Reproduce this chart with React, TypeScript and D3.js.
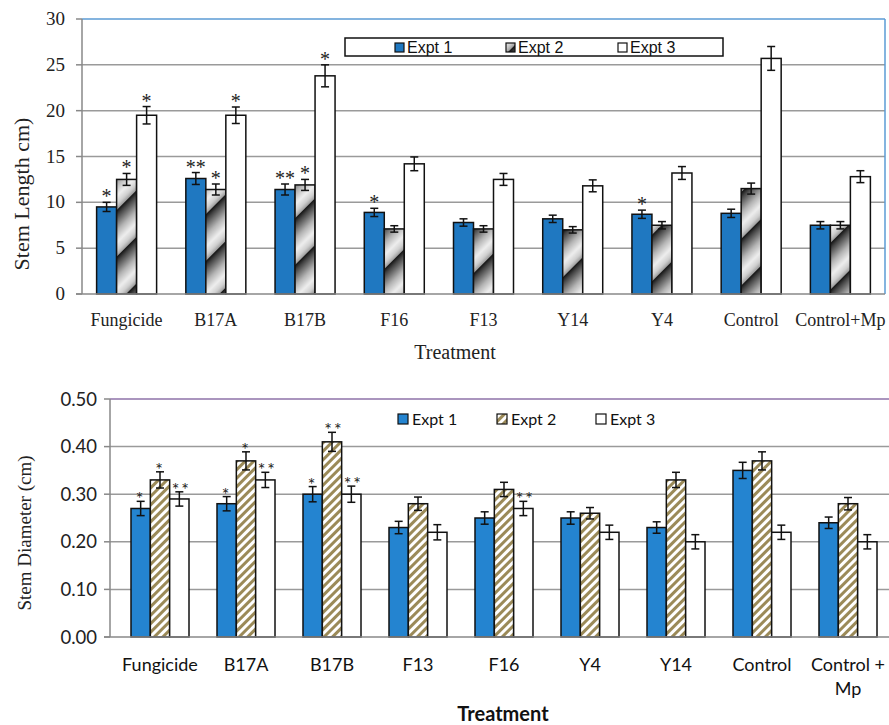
import React from "react";
import * as d3 from "d3";

// ---------- Top chart data (Stem Length) ----------
const lenCategories = ["Fungicide", "B17A", "B17B", "F16", "F13", "Y14", "Y4", "Control", "Control+Mp"];
const lenE1 = [9.5, 12.6, 11.4, 8.9, 7.8, 8.2, 8.7, 8.8, 7.5];
const lenE2 = [12.5, 11.4, 11.9, 7.1, 7.1, 7.0, 7.5, 11.5, 7.5];
const lenE3 = [19.5, 19.5, 23.8, 14.2, 12.5, 11.8, 13.2, 25.7, 12.8];
const lenE1Err = [0.5, 0.65, 0.6, 0.45, 0.4, 0.4, 0.45, 0.45, 0.4];
const lenE2Err = [0.65, 0.6, 0.6, 0.35, 0.35, 0.35, 0.4, 0.6, 0.4];
const lenE3Err = [0.95, 0.9, 1.2, 0.75, 0.65, 0.65, 0.7, 1.3, 0.65];
const lenE1Sig = ["*", "**", "**", "*", "", "", "*", "", ""];
const lenE2Sig = ["*", "*", "*", "", "", "", "", "", ""];
const lenE3Sig = ["*", "*", "*", "", "", "", "", "", ""];
const lenTicks = [0, 5, 10, 15, 20, 25, 30];

// ---------- Bottom chart data (Stem Diameter) ----------
const diaCategories = ["Fungicide", "B17A", "B17B", "F13", "F16", "Y4", "Y14", "Control", "Control +|Mp"];
const diaE1 = [0.27, 0.28, 0.30, 0.23, 0.25, 0.25, 0.23, 0.35, 0.24];
const diaE2 = [0.33, 0.37, 0.41, 0.28, 0.31, 0.26, 0.33, 0.37, 0.28];
const diaE3 = [0.29, 0.33, 0.30, 0.22, 0.27, 0.22, 0.20, 0.22, 0.20];
const diaE1Err = [0.015, 0.015, 0.016, 0.013, 0.013, 0.013, 0.012, 0.017, 0.012];
const diaE2Err = [0.017, 0.019, 0.02, 0.014, 0.015, 0.012, 0.016, 0.019, 0.013];
const diaE3Err = [0.015, 0.016, 0.017, 0.016, 0.015, 0.015, 0.015, 0.015, 0.015];
const diaE1Sig = ["*", "*", "*", "", "", "", "", "", ""];
const diaE2Sig = ["*", "*", "**", "", "", "", "", "", ""];
const diaE3Sig = ["**", "**", "**", "", "**", "", "", "", ""];
const diaTicks = [0, 0.1, 0.2, 0.3, 0.4, 0.5];

const seriesNames = ["Expt 1", "Expt 2", "Expt 3"];

const SERIF = "Liberation Serif, Times New Roman, Times, serif";
const SANS = "Liberation Sans, Arial, sans-serif";
const CAL = "Lato, Open Sans, sans-serif";

function TopChart() {
  const left = 82, right = 885, top = 19, bottom = 294;
  const y = d3.scaleLinear().domain([0, 30]).range([bottom, top]);
  const x = d3.scaleBand<string>().domain(lenCategories).range([left, right]);
  const groupW = 60;
  const xs = d3.scaleBand<string>().domain(["0", "1", "2"]).range([0, groupW]);
  const series = [
    { v: lenE1, e: lenE1Err, s: lenE1Sig, fill: "#1f78c1" },
    { v: lenE2, e: lenE2Err, s: lenE2Sig, fill: "url(#metal)" },
    { v: lenE3, e: lenE3Err, s: lenE3Sig, fill: "#ffffff" },
  ];
  return (
    <g>
      {lenTicks.slice(1, -1).map((t) => (
        <line key={t} x1={left} x2={right} y1={y(t)} y2={y(t)} stroke="#9a9a9a" strokeWidth={1.5} />
      ))}
      <line x1={left} x2={right} y1={y(30)} y2={y(30)} stroke="#5b9bd5" strokeWidth={1.5} />
      <line x1={right} x2={right} y1={y(30)} y2={y(0)} stroke="#5b9bd5" strokeWidth={1.5} />
      {lenTicks.map((t) => (
        <g key={"t" + t}>
          <line x1={left - 6} x2={left} y1={y(t)} y2={y(t)} stroke="#888" strokeWidth={1.5} />
          <text x={65} y={y(t) + 6} textAnchor="end" style={{ fontFamily: SERIF, fontSize: 19 }} fill="#222">{t}</text>
        </g>
      ))}
      {lenCategories.map((c, i) => {
        const gx = (x(c) as number) + x.bandwidth() / 2 - groupW / 2;
        return (
          <g key={c}>
            {series.map((s, k) => {
              const bx = gx + (xs(String(k)) as number);
              const bw = xs.bandwidth();
              const cx = bx + bw / 2;
              const v = s.v[i], e = s.e[i];
              const et = y(v + e);
              return (
                <g key={k}>
                  <rect x={bx} y={y(v)} width={bw} height={y(0) - y(v)} fill={s.fill} stroke="#111" strokeWidth={1.5} />
                  <line x1={cx} x2={cx} y1={y(v + e)} y2={y(v - e)} stroke="#111" strokeWidth={1.5} />
                  <line x1={cx - 4} x2={cx + 4} y1={y(v + e)} y2={y(v + e)} stroke="#111" strokeWidth={1.5} />
                  <line x1={cx - 4} x2={cx + 4} y1={y(v - e)} y2={y(v - e)} stroke="#111" strokeWidth={1.5} />
                  {s.s[i] && (
                    <text x={cx} y={et + 1} textAnchor="middle" style={{ fontFamily: SERIF, fontSize: 20 }} fill="#222">{s.s[i]}</text>
                  )}
                </g>
              );
            })}
            <text x={(x(c) as number) + x.bandwidth() / 2} y={326} textAnchor="middle" style={{ fontFamily: SERIF, fontSize: 18 }} fill="#222">{c}</text>
          </g>
        );
      })}
      <line x1={left} x2={left} y1={y(30)} y2={y(0)} stroke="#888" strokeWidth={1.5} />
      <line x1={left - 6} x2={right} y1={y(0)} y2={y(0)} stroke="#888" strokeWidth={1.5} />
      <text x={455} y={359} textAnchor="middle" style={{ fontFamily: SERIF, fontSize: 20 }} fill="#222">Treatment</text>
      <text transform={`translate(29,194) rotate(-90)`} textAnchor="middle" style={{ fontFamily: SERIF, fontSize: 22 }} fill="#222">Stem Length cm)</text>
      {/* legend */}
      <rect x={345} y={38} width={378} height={18} fill="#fff" stroke="#111" strokeWidth={1.5} />
      {seriesNames.map((n, k) => {
        const sx = [395, 506, 618][k];
        return (
          <g key={n}>
            <rect x={sx} y={43} width={9} height={9} fill={series[k].fill} stroke="#111" strokeWidth={1.2} />
            <text x={sx + 12} y={53} style={{ fontFamily: SANS, fontSize: 16 }} fill="#111">{n}</text>
          </g>
        );
      })}
    </g>
  );
}

function BottomChart() {
  const left = 110, right = 889, top = 399, bottom = 637;
  const y = d3.scaleLinear().domain([0, 0.5]).range([bottom, top]);
  const x = d3.scaleBand<string>().domain(diaCategories).range([117, 891]);
  const groupW = 58;
  const xs = d3.scaleBand<string>().domain(["0", "1", "2"]).range([0, groupW]);
  const series = [
    { v: diaE1, e: diaE1Err, s: diaE1Sig, fill: "#2484d0" },
    { v: diaE2, e: diaE2Err, s: diaE2Sig, fill: "url(#olive)" },
    { v: diaE3, e: diaE3Err, s: diaE3Sig, fill: "#ffffff" },
  ];
  return (
    <g>
      {diaTicks.slice(1, -1).map((t) => (
        <line key={t} x1={left} x2={right} y1={y(t)} y2={y(t)} stroke="#9a9a9a" strokeWidth={1.5} />
      ))}
      <line x1={left} x2={right} y1={y(0.5)} y2={y(0.5)} stroke="#8e72a8" strokeWidth={1.5} />
      {diaTicks.map((t) => (
        <g key={"t" + t}>
          <line x1={left - 6} x2={left} y1={y(t)} y2={y(t)} stroke="#888" strokeWidth={1.5} />
          <text x={97} y={y(t) + 6.5} textAnchor="end" style={{ fontFamily: CAL, fontSize: 18.5 }} fill="#222">{d3.format(".2f")(t)}</text>
        </g>
      ))}
      {diaCategories.map((c, i) => {
        const center = (x(c) as number) + x.bandwidth() / 2;
        const gx = center - groupW / 2;
        const lines = c.split("|");
        return (
          <g key={c}>
            {series.map((s, k) => {
              const bx = gx + (xs(String(k)) as number);
              const bw = xs.bandwidth();
              const cx = bx + bw / 2;
              const v = s.v[i], e = s.e[i];
              const et = y(v + e);
              return (
                <g key={k}>
                  <rect x={bx} y={y(v)} width={bw} height={y(0) - y(v)} fill={s.fill} stroke="#111" strokeWidth={1.5} />
                  <line x1={cx} x2={cx} y1={y(v + e)} y2={y(v - e)} stroke="#111" strokeWidth={1.5} />
                  <line x1={cx - 4} x2={cx + 4} y1={y(v + e)} y2={y(v + e)} stroke="#111" strokeWidth={1.5} />
                  <line x1={cx - 4} x2={cx + 4} y1={y(v - e)} y2={y(v - e)} stroke="#111" strokeWidth={1.5} />
                  {s.s[i] && (
                    <text x={cx + (s.s[i].length > 1 ? 2 : 0)} y={et + 4} textAnchor="middle" style={{ fontFamily: CAL, fontSize: 18, letterSpacing: 2 }} fill="#222">{s.s[i]}</text>
                  )}
                </g>
              );
            })}
            {lines.map((l, j) => (
              <text key={j} x={center} y={671 + j * 24} textAnchor="middle" style={{ fontFamily: CAL, fontSize: 18 }} fill="#111">{l}</text>
            ))}
          </g>
        );
      })}
      <line x1={left} x2={left} y1={y(0.5)} y2={y(0)} stroke="#888" strokeWidth={1.5} />
      <line x1={left - 6} x2={right} y1={y(0)} y2={y(0)} stroke="#888" strokeWidth={1.5} />
      <text x={503} y={721} textAnchor="middle" style={{ fontFamily: CAL, fontWeight: "bold", fontSize: 20 }} fill="#111">Treatment</text>
      <text transform={`translate(31,533) rotate(-90)`} textAnchor="middle" style={{ fontFamily: SERIF, fontSize: 19 }} fill="#222">Stem Diameter (cm)</text>
      {seriesNames.map((n, k) => {
        const sx = [398, 497, 596][k];
        return (
          <g key={n}>
            <rect x={sx} y={414} width={10} height={10} fill={series[k].fill} stroke="#111" strokeWidth={1.2} />
            <text x={sx + 14} y={425} style={{ fontFamily: CAL, fontSize: 16 }} fill="#111">{n}</text>
          </g>
        );
      })}
    </g>
  );
}

export default function App() {
  return (
    <svg width={889} height={725} style={{ position: "absolute", left: 0, top: 0, background: "#fff" }}>
      <defs>
        <linearGradient id="metalGrad" x1="0" y1="0" x2="1" y2="0">
          <stop offset="0" stopColor="#111" />
          <stop offset="0.12" stopColor="#444" />
          <stop offset="0.45" stopColor="#b5b5b5" />
          <stop offset="0.7" stopColor="#eeeeee" />
          <stop offset="0.88" stopColor="#cfcfcf" />
          <stop offset="1" stopColor="#9a9a9a" />
        </linearGradient>
        <pattern id="metal" patternUnits="userSpaceOnUse" width={33} height={10} patternTransform="rotate(45)">
          <rect x={0} y={0} width={33} height={10} fill="url(#metalGrad)" />
        </pattern>
        <pattern id="olive" patternUnits="userSpaceOnUse" width={6} height={6} patternTransform="rotate(45)">
          <rect x={0} y={0} width={6} height={6} fill="#fff" />
          <rect x={0} y={0} width={3} height={6} fill="#9b8a58" />
        </pattern>
      </defs>
      <rect width={889} height={725} fill="#fff" />
      <TopChart />
      <BottomChart />
    </svg>
  );
}
